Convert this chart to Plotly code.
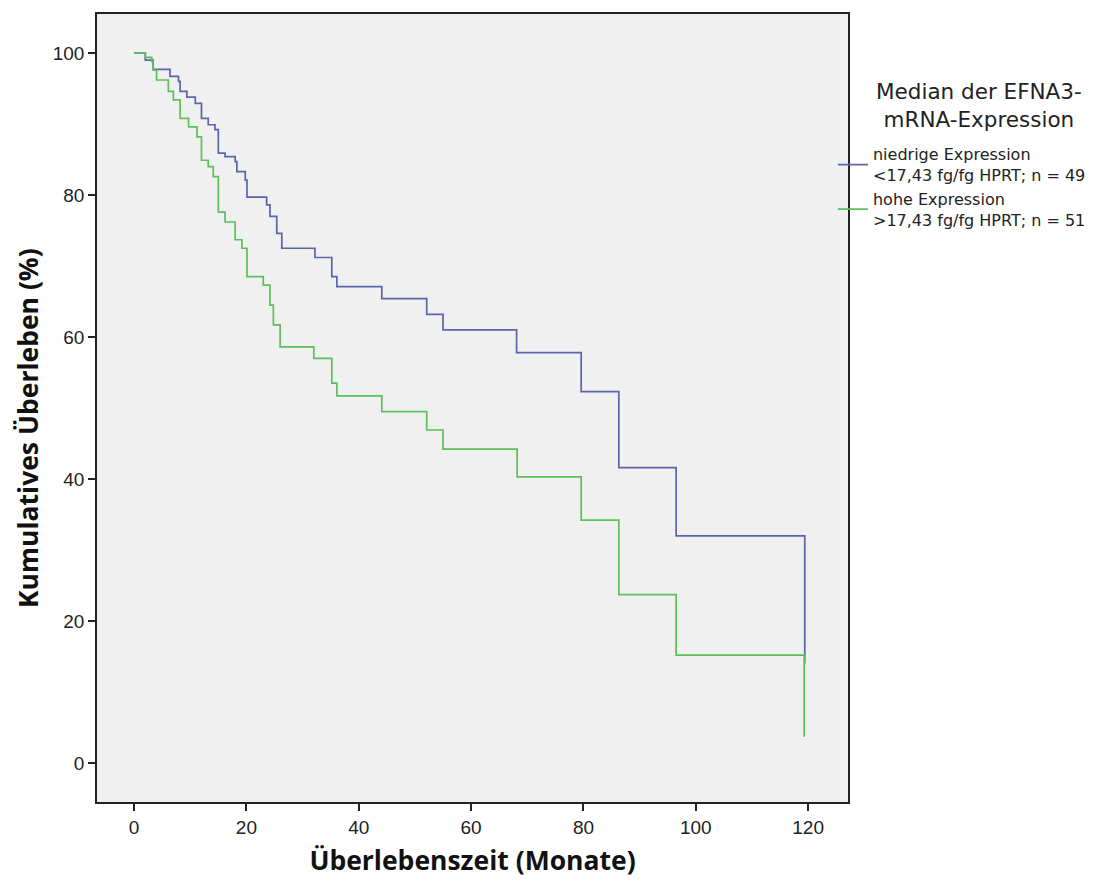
import plotly.graph_objects as go

# Blue: niedrige Expression (n = 49)
low_t = [0, 2.0, 3.4, 6.4, 7.9, 8.2, 9.4, 10.9, 12.0, 13.2, 14.4, 15.0, 16.2, 18.0, 18.3,
         19.8, 20.1, 23.6, 24.2, 25.4, 26.3, 32.2, 35.2, 36.1, 44.1, 52.1, 55.0, 68.1,
         79.6, 86.3, 96.5, 119.4]
low_s = [100, 99.0, 97.7, 96.7, 96.0, 94.6, 93.8, 92.9, 90.8, 89.9, 89.2, 85.9, 85.4, 84.7, 83.3,
         82.1, 79.7, 78.6, 77.0, 74.6, 72.5, 71.2, 68.5, 67.1, 65.4, 63.2, 61.0, 57.8,
         52.3, 41.6, 32.0, 14.0]

# Green: hohe Expression (n = 51)
high_t = [0, 2.0, 3.15, 3.4, 4.0, 6.1, 7.0, 8.2, 9.7, 11.2, 12.0, 13.2, 14.1, 15.0, 16.2,
          18.0, 19.2, 20.1, 23.0, 24.2, 24.8, 26.0, 32.0, 35.2, 36.1, 44.1, 52.1, 55.0,
          68.2, 79.6, 86.3, 96.5, 119.3]
high_s = [100, 99.4, 98.8, 97.6, 96.2, 94.6, 93.4, 90.8, 89.6, 88.2, 84.9, 84.0, 82.6, 77.6, 76.2,
          73.7, 72.5, 68.5, 67.3, 64.5, 61.7, 58.6, 57.0, 53.5, 51.7, 49.5, 46.9, 44.2,
          40.3, 34.2, 23.7, 15.2, 3.7]

names = ["niedrige Expression<br><17,43 fg/fg HPRT; n = 49",
         "hohe Expression<br>>17,43 fg/fg HPRT; n = 51"]
legend_title = "Median der EFNA3-<br>mRNA-Expression"
colors = ["#5865aa", "#5cbf5c"]

x_ticks = [0, 20, 40, 60, 80, 100, 120]
y_ticks = [0, 20, 40, 60, 80, 100]

fig = go.Figure()
for t, s, n, c in [(low_t, low_s, names[0], colors[0]), (high_t, high_s, names[1], colors[1])]:
    fig.add_trace(go.Scatter(x=t, y=s, mode="lines", name=n,
                             line=dict(color=c, width=1.7, shape="hv")))

axis_common = dict(showline=True, linecolor="#222", linewidth=1.5, mirror=True,
                   ticks="outside", ticklen=7, tickwidth=1.5, tickcolor="#222",
                   showgrid=False, zeroline=False, automargin=False,
                   tickfont=dict(family="Liberation Sans, Arial", size=19, color="#222"))

title_font = dict(family="Open Sans, DejaVu Sans", size=26.5, color="#111")

fig.update_layout(
    width=1096, height=870,
    margin=dict(l=89, r=256, t=6, b=76),
    paper_bgcolor="white", plot_bgcolor="#f0f0f0",
    xaxis=dict(range=[-6.6, 127.1], tickvals=x_ticks,
               title=dict(text="<b>Überlebenszeit (Monate)</b>", standoff=19, font=title_font),
               **axis_common),
    yaxis=dict(range=[-5.5, 105.5], tickvals=y_ticks, **axis_common),
    legend=dict(x=0.980, y=0.8436, xanchor="left", yanchor="top",
                bgcolor="rgba(0,0,0,0)",
                font=dict(family="DejaVu Sans", size=16, color="#222"),
                tracegroupgap=0, itemwidth=30),
)

fig.add_annotation(text="<b>Kumulatives Überleben (%)</b>", textangle=-90,
                   xref="paper", yref="paper", x=-0.0919, y=0.4746,
                   xanchor="center", yanchor="middle", showarrow=False, font=title_font)

fig.add_annotation(text=legend_title, xref="paper", yref="paper", x=1.1744, y=0.8845,
                   xanchor="center", yanchor="middle", showarrow=False, align="center",
                   font=dict(family="DejaVu Sans", size=21.5, color="#222"))

fig.write_html("out.html")
